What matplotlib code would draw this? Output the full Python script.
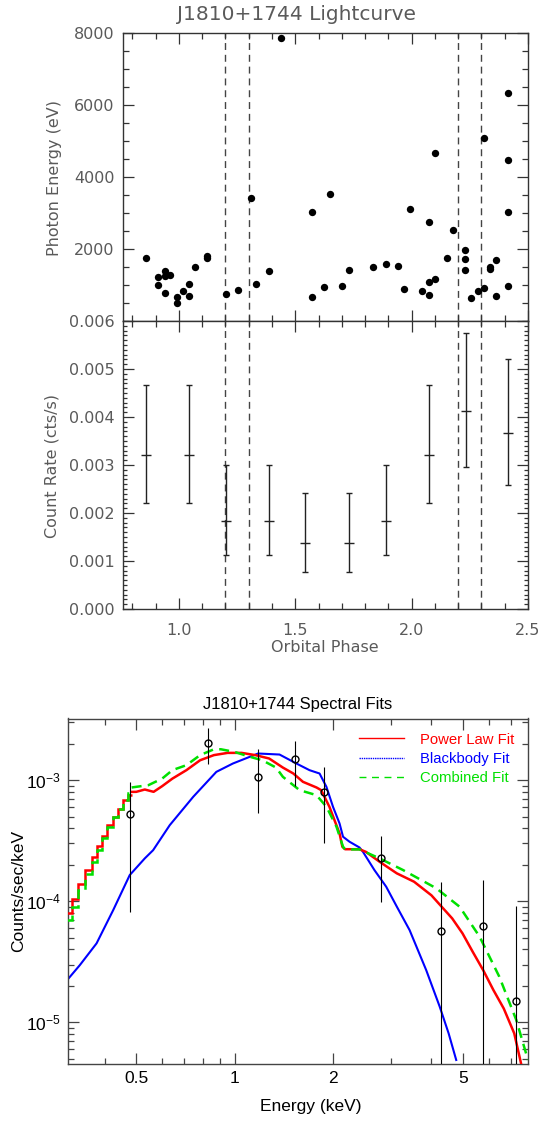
import matplotlib
matplotlib.use('Agg')
import matplotlib.pyplot as plt
from matplotlib.lines import Line2D
from matplotlib.ticker import FixedLocator, MultipleLocator, NullFormatter, FixedFormatter

# ---------------- data ----------------
# Lightcurve: photon arrival phase and energy
phot_phase = [0.859, 0.911, 0.911, 0.939, 0.939, 0.939, 0.964, 0.991, 0.991, 1.018,
              1.043, 1.043, 1.070, 1.122, 1.122, 1.202, 1.254, 1.308, 1.333, 1.387,
              1.439, 1.571, 1.571, 1.624, 1.650, 1.702, 1.729, 1.835, 1.888, 1.941,
              1.967, 1.994, 2.046, 2.073, 2.073, 2.073, 2.100, 2.100, 2.152, 2.179,
              2.231, 2.231, 2.231, 2.257, 2.284, 2.311, 2.311, 2.338, 2.338, 2.363,
              2.363, 2.415, 2.415, 2.415, 2.415]
phot_energy = [1750, 1216, 1012, 1400, 1262, 782, 1271, 662, 505, 828,
               1022, 707, 1511, 1806, 1750, 754, 865, 3404, 1040, 1400,
               7870, 3033, 662, 939, 3523, 967, 1418, 1502, 1576, 1539,
               901, 3108, 846, 2757, 1095, 718, 4667, 1178, 1751, 2535,
               1982, 1732, 1418, 635, 828, 5093, 929, 1492, 1446, 1695,
               690, 6339, 4464, 3033, 976]

# Binned count rate
rate_phase = [0.859, 1.043, 1.201, 1.387, 1.543, 1.732, 1.890, 2.075, 2.234, 2.415]
rate = [0.00321, 0.00321, 0.00183, 0.00183, 0.001375, 0.001375, 0.00183, 0.00321, 0.004125, 0.00367]
rate_hi = [0.00467, 0.00467, 0.00299, 0.00299, 0.00242, 0.00242, 0.00299, 0.00467, 0.00576, 0.00521]
rate_lo = [0.00220, 0.00220, 0.00112, 0.00112, 0.000765, 0.000765, 0.00112, 0.00220, 0.00295, 0.00258]

dash_phases = [1.2, 1.3, 2.2, 2.3]

# Spectrum: data points
spec_E = [0.480, 0.829, 1.18, 1.53, 1.88, 2.80, 4.27, 5.76, 7.24]
spec_C = [5.21e-4, 2.03e-3, 1.07e-3, 1.50e-3, 8.0e-4, 2.26e-4, 5.64e-5, 6.24e-5, 1.50e-5]
spec_hi = [9.57e-4, 2.70e-3, 1.82e-3, 2.10e-3, 1.29e-3, 3.45e-4, 1.45e-4, 1.50e-4, 9.1e-5]
spec_lo = [8.2e-5, 1.35e-3, 5.31e-4, 8.9e-4, 3.0e-4, 9.9e-5, 1e-7, 1e-7, 1e-7]

# Model step section (low energy channels)
step_edges = [0.3073, 0.3184, 0.3321, 0.3481, 0.3649, 0.3779, 0.3915, 0.4056,
              0.4231, 0.4401, 0.4558, 0.4721, 0.4836]
pl_steps = [8.0e-5, 1.05e-4, 1.40e-4, 1.80e-4, 2.32e-4, 2.85e-4, 3.49e-4, 4.25e-4,
            4.97e-4, 5.83e-4, 6.92e-4, 7.52e-4]
comb_steps = [7.0e-5, 9.0e-5, 1.23e-4, 1.67e-4, 2.11e-4, 2.67e-4, 3.30e-4, 4.07e-4,
              4.92e-4, 5.83e-4, 6.92e-4, 7.76e-4]

# Power law fit (smooth part)
pl_E = [0.484, 0.500, 0.531, 0.565, 0.600, 0.645, 0.712, 0.784, 0.864, 0.952, 1.050,
        1.157, 1.275, 1.405, 1.512, 1.618, 1.78, 1.84, 1.95, 2.094, 2.136, 2.177,
        2.41, 2.52, 2.776, 3.135, 3.54, 4.0, 4.30, 4.63, 4.98, 5.35, 5.76, 6.19,
        6.66, 7.17, 7.52]
pl_C = [8.0e-4, 8.01e-4, 8.37e-4, 8.01e-4, 8.92e-4, 1.03e-3, 1.21e-3, 1.46e-3, 1.61e-3,
        1.68e-3, 1.68e-3, 1.61e-3, 1.51e-3, 1.27e-3, 1.135e-3, 9.69e-4, 8.70e-4, 8.27e-4,
        6.02e-4, 3.63e-4, 2.82e-4, 2.69e-4, 2.69e-4, 2.56e-4, 2.12e-4, 1.70e-4, 1.45e-4,
        1.12e-4, 9.01e-5, 7.22e-5, 5.43e-5, 3.83e-5, 2.70e-5, 1.85e-5, 1.30e-5, 8.11e-6,
        4.59e-6]

# Combined fit (smooth part)
comb_E = [0.484, 0.500, 0.5445, 0.600, 0.645, 0.712, 0.784, 0.860, 0.907, 1.0, 1.113,
          1.215, 1.339, 1.405, 1.58, 1.78, 1.91, 2.05, 2.146, 2.177, 2.41, 2.776,
          3.276, 4.14, 4.88, 5.62, 6.455, 7.27, 7.90]
comb_C = [8.7e-4, 8.81e-4, 9.09e-4, 1.03e-3, 1.21e-3, 1.33e-3, 1.61e-3, 1.79e-3, 1.80e-3,
          1.71e-3, 1.56e-3, 1.46e-3, 1.27e-3, 1.065e-3, 8.27e-4, 7.52e-4, 6.02e-4, 4.12e-4,
          2.82e-4, 2.68e-4, 2.68e-4, 2.26e-4, 1.81e-4, 1.28e-4, 9.01e-5, 5.09e-5, 2.38e-5,
          1.05e-5, 4.89e-6]

# Blackbody fit
bb_E = [0.3075, 0.336, 0.378, 0.425, 0.4775, 0.531, 0.563, 0.633, 0.747, 0.879, 0.988,
        1.18, 1.372, 1.545, 1.695, 1.819, 1.909, 2.0, 2.094, 2.146, 2.247, 2.41, 2.47,
        2.677, 2.908, 3.136, 3.43, 3.856, 4.24, 4.516, 4.764]
bb_C = [2.24e-5, 2.97e-5, 4.49e-5, 8.45e-5, 1.645e-4, 2.26e-4, 2.64e-4, 4.25e-4, 7.29e-4,
        1.171e-3, 1.373e-3, 1.66e-3, 1.628e-3, 1.373e-3, 1.209e-3, 1.135e-3, 8.81e-4,
        6.02e-4, 4.39e-4, 3.41e-4, 3.10e-4, 2.78e-4, 2.56e-4, 1.81e-4, 1.32e-4, 9.01e-5,
        5.78e-5, 2.70e-5, 1.35e-5, 8.11e-6, 4.89e-6]

legend_labels = ['Power Law Fit', 'Blackbody Fit', 'Combined Fit']
spec_xticks = [0.5, 1, 2, 5]
spec_xticklabels = ['0.5', '1', '2', '5']
rate_yticks = [0, 0.001, 0.002, 0.003, 0.004, 0.005, 0.006]
rate_yticklabels = ['0.000', '0.001', '0.002', '0.003', '0.004', '0.005', '0.006']
phase_xticks = [1.0, 1.5, 2.0, 2.5]
phase_xticklabels = ['1.0', '1.5', '2.0', '2.5']

# ---------------- figure ----------------
W, H = 541, 1123
fig = plt.figure(figsize=(W / 100, H / 100), dpi=100)
GRAY = '#5a5a5a'
AXC = '#333333'
RED, BLUE, GREEN = '#ff0000', '#0000ff', '#00e000'


def frac(l, t, r, b):
    return [l / W, 1 - b / H, (r - l) / W, (b - t) / H]


ax1 = fig.add_axes(frac(123, 33, 528, 321))
ax2 = fig.add_axes(frac(123, 321, 528, 609))
ax3 = fig.add_axes(frac(67.5, 718.5, 528, 1064))

for ax in (ax1, ax2):
    for s in ax.spines.values():
        s.set_color(AXC)
        s.set_linewidth(1.0)
    ax.set_xlim(0.76, 2.5)
    ax.xaxis.set_major_locator(FixedLocator(phase_xticks))
    ax.xaxis.set_minor_locator(MultipleLocator(0.1))
    ax.tick_params(which='both', direction='in', top=True, right=True, color=AXC,
                   labelcolor=GRAY, labelsize=11.5, width=0.9)
    ax.tick_params(which='major', length=8, pad=6)
    ax.tick_params(which='minor', length=4)
    ax.tick_params(axis='x', which='major', pad=10)
    for p in dash_phases:
        ax.axvline(p, color='#444444', lw=1.0, ls=(0, (5, 3.5)), zorder=1)

# top panel
ax1.scatter(phot_phase, phot_energy, s=28, color='black', zorder=3, linewidths=0)
ax1.set_ylim(0, 8000)
ax1.yaxis.set_major_locator(FixedLocator([2000, 4000, 6000, 8000]))
ax1.yaxis.set_minor_locator(MultipleLocator(500))
ax1.xaxis.set_major_formatter(NullFormatter())

# middle panel
yerr = [[r - lo for r, lo in zip(rate, rate_lo)], [hi - r for r, hi in zip(rate, rate_hi)]]
ax2.errorbar(rate_phase, rate, yerr=yerr, fmt='_', ms=7, mew=1.0, color='#222222',
             ecolor='#222222', elinewidth=1.0, capsize=2.5, capthick=1.0, zorder=3)
ax2.set_ylim(0, 0.006)
ax2.yaxis.set_major_locator(FixedLocator(rate_yticks))
ax2.yaxis.set_major_formatter(FixedFormatter(rate_yticklabels))
ax2.yaxis.set_minor_locator(MultipleLocator(0.0001))
ax2.tick_params(axis='y', which='minor', length=3)
ax2.xaxis.set_major_formatter(FixedFormatter(phase_xticklabels))

fig.text(296 / W, 1 - 15 / H, 'J1810+1744 Lightcurve', ha='center', va='center',
         fontsize=14.5, color=GRAY)
fig.text(55 / W, 1 - 178 / H, 'Photon Energy (eV)', rotation=90, ha='center',
         va='center', fontsize=11.5, color=GRAY)
fig.text(52 / W, 1 - 466 / H, 'Count Rate (cts/s)', rotation=90, ha='center',
         va='center', fontsize=11.5, color=GRAY)
fig.text(325 / W, 1 - 648 / H, 'Orbital Phase', ha='center', va='center',
         fontsize=11.5, color=GRAY)

# ---------------- spectrum ----------------
SF = 'Liberation Sans'
ax3.set_xscale('log')
ax3.set_yscale('log')
ax3.set_xlim(0.308, 7.9)
ax3.set_ylim(4.53e-6, 3.23e-3)

ax3.plot(bb_E, bb_C, color=BLUE, lw=1.5, zorder=2)
ax3.stairs(pl_steps, step_edges, color=RED, lw=1.8, baseline=None, zorder=3)
ax3.plot(pl_E, pl_C, color=RED, lw=1.8, zorder=3)
ax3.stairs(comb_steps, step_edges, color=GREEN, lw=1.8, baseline=None, zorder=4,
           linestyle=(0, (4, 2.5)))
ax3.plot(comb_E, comb_C, color=GREEN, lw=1.8, ls=(0, (4, 2.5)), zorder=4)

serr = [[c - lo for c, lo in zip(spec_C, spec_lo)], [hi - c for c, hi in zip(spec_C, spec_hi)]]
ax3.errorbar(spec_E, spec_C, yerr=serr, fmt='o', ms=5, mfc='none', mec='black', mew=1.0,
             ecolor='black', elinewidth=0.8, capsize=0, zorder=5)

for s in ax3.spines.values():
    s.set_color('#444444')
    s.set_linewidth(1.0)
ax3.xaxis.set_major_locator(FixedLocator(spec_xticks))
ax3.xaxis.set_major_formatter(FixedFormatter(spec_xticklabels))
ax3.xaxis.set_minor_locator(FixedLocator([0.3, 0.4, 0.6, 0.7, 0.8, 0.9, 3, 4, 6, 7]))
ax3.xaxis.set_minor_formatter(NullFormatter())
ax3.tick_params(which='both', direction='in', top=True, right=True, color='#444444',
                labelsize=12.5, width=0.9)
ax3.tick_params(which='major', length=8, pad=5)
ax3.tick_params(which='minor', length=4)
for lab in ax3.get_xticklabels() + ax3.get_yticklabels():
    lab.set_family(SF)

handles = [Line2D([], [], color=RED, lw=1.0),
           Line2D([], [], color=BLUE, lw=1.0, ls=(0, (1, 0.6))),
           Line2D([], [], color=GREEN, lw=1.0, ls=(0, (5, 4)))]
leg = ax3.legend(handles, legend_labels, loc='upper right', bbox_to_anchor=(0.99, 0.985),
                 frameon=False, prop={'family': SF, 'size': 10.7}, handlelength=3.0,
                 handletextpad=1.1, labelspacing=0.35, borderaxespad=0.2)
for t, c in zip(leg.get_texts(), [RED, BLUE, GREEN]):
    t.set_color(c)

fig.text(298 / W, 1 - 705 / H, 'J1810+1744 Spectral Fits', ha='center', va='center',
         fontsize=12, family=SF, color='black')
fig.text(19 / W, 1 - 891 / H, 'Counts/sec/keV', rotation=90, ha='center', va='center',
         fontsize=12.5, family=SF, color='black')
fig.text(311 / W, 1 - 1106 / H, 'Energy (keV)', ha='center', va='center',
         fontsize=12.5, family=SF, color='black')

fig.savefig('out.png', dpi=100, facecolor='white')
